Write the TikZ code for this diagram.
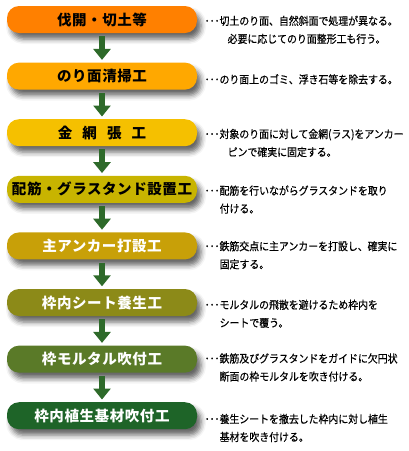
\documentclass[tikz,border=0pt]{standalone}
\usepackage{fontspec}
\usetikzlibrary{arrows.meta,shadows.blur}
\newfontfamily\jpboxfont{Noto Sans CJK JP}[LetterSpace=4]
\newfontfamily\jpnotefont{Noto Sans CJK JP}[FakeStretch=0.9, FakeBold=0.4]
\definecolor{stepclear}{HTML}{FF8000}
\definecolor{stepclean}{HTML}{FFA800}
\definecolor{stepnet}{HTML}{F5C000}
\definecolor{stepbar}{HTML}{C8B400}
\definecolor{stepanchor}{HTML}{C8A008}
\definecolor{stepsheet}{HTML}{8C8A18}
\definecolor{stepmortar}{HTML}{5A7A28}
\definecolor{stepplant}{HTML}{1E6428}
\definecolor{flowgreen}{HTML}{2E6A2A}

\begin{document}
\begin{tikzpicture}[x=1pt, y=-1pt,
    workbox/.style={rounded corners=12pt, minimum width=190pt, minimum height=27pt, inner sep=0pt,
      blur shadow={shadow xshift=4pt, shadow yshift=-6pt, shadow blur radius=5pt, shadow opacity=60},
      font=\jpboxfont\bfseries\fontsize{14.5}{14.5}\selectfont},
    note/.style={anchor=north west, inner sep=0pt, align=left, font=\jpnotefont\fontsize{11}{18}\selectfont},
    flow/.style={draw=flowgreen, line width=6pt, -{Triangle[width=17pt,length=11pt]}}]
    \useasboundingbox (0,0) rectangle (409,451);
    % work steps
    \node[workbox, fill=stepclear] (clear) at (102,19.5) {伐開・切土等};
    \node[workbox, fill=stepclean] (clean) at (102,76.1) {のり面清掃工};
    \node[workbox, fill=stepnet] (net) at (102,132.7) {金\hspace{0.7em}網\hspace{0.7em}張\hspace{0.7em}工};
    \node[workbox, fill=stepbar] (bar) at (102,189.3) {配筋・グラスタンド設置工};
    \node[workbox, fill=stepanchor, text=white] (anchor) at (102,245.9) {主アンカー打設工};
    \node[workbox, fill=stepsheet, text=white] (sheet) at (102,302.5) {枠内シート養生工};
    \node[workbox, fill=stepmortar, text=white] (mortar) at (102,359.1) {枠モルタル吹付工};
    \node[workbox, fill=stepplant, text=white] (plant) at (102,415.7) {枠内植生基材吹付工};
    \foreach \a/\b in {clear/clean, clean/net, net/bar, bar/anchor, anchor/sheet, sheet/mortar, mortar/plant}
      \draw[flow] ([yshift=-3pt]\a.south) -- ([yshift=2.5pt]\b.north);
    % notes
    \node[note] (clearnote) at (204.5,15.5) {･･･切土のり面、自然斜面で処理が異なる。\\\hspace*{23pt}必要に応じてのり面整形工も行う。};
    \node[note] (cleannote) at (204.5,74) {･･･のり面上のゴミ、浮き石等を除去する。};
    \node[note] (netnote) at (204.5,128.7) {･･･対象のり面に対して金網(ラス)をアンカー\\\hspace*{23pt}ピンで確実に固定する。};
    \node[note] (barnote) at (204.5,185.3) {･･･配筋を行いながらグラスタンドを取り\\\hspace*{15pt}付ける。};
    \node[note] (anchornote) at (204.5,240.9) {･･･鉄筋交点に主アンカーを打設し、確実に\\\hspace*{15pt}固定する。};
    \node[note] (sheetnote) at (204.5,299.5) {･･･モルタルの飛散を避けるため枠内を\\\hspace*{15pt}シートで覆う。};
    \node[note] (mortarnote) at (204.5,353.1) {･･･鉄筋及びグラスタンドをガイドに欠円状\\\hspace*{15pt}断面の枠モルタルを吹き付ける。};
    \node[note] (plantnote) at (204.5,413.7) {･･･養生シートを撤去した枠内に対し植生\\\hspace*{15pt}基材を吹き付ける。};
\end{tikzpicture}
\end{document}
